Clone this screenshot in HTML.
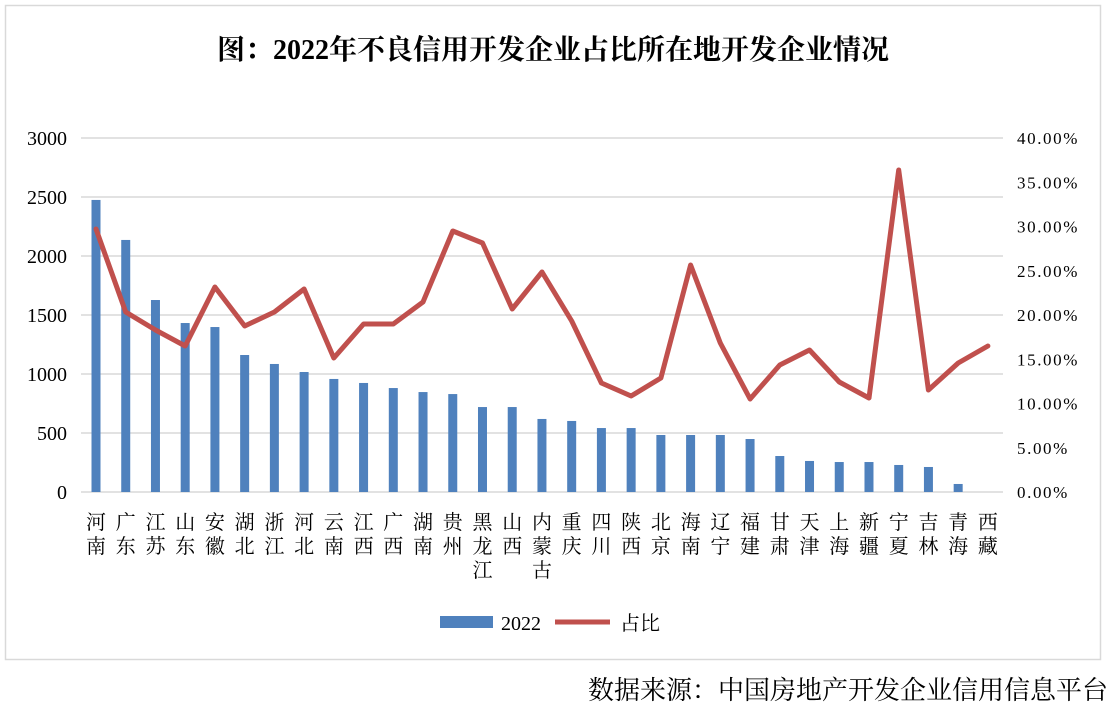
<!DOCTYPE html>
<html><head><meta charset="utf-8"><style>
body{margin:0;background:#fff;width:1118px;height:723px;overflow:hidden}
svg text{font-family:"Liberation Serif","Noto Serif CJK SC",serif}
</style></head><body>
<svg width="1118" height="723" xmlns="http://www.w3.org/2000/svg">
<rect x="5.5" y="5.5" width="1095" height="654" fill="#fff" stroke="#d9d9d9" stroke-width="1.5"/>
<text x="553" y="59" font-size="28" font-weight="bold" text-anchor="middle">图：2022年不良信用开发企业占比所在地开发企业情况</text>
<g id="grid" stroke="#d9d9d9" stroke-width="1.5"></g>
<g id="ly" font-size="20" text-anchor="end"></g>
<g id="ry" font-size="17" text-anchor="start" letter-spacing="1.6"></g>
<g id="bars" fill="#4F81BD"></g>
<polyline id="line" fill="none" stroke="#C0504D" stroke-width="5" stroke-linejoin="round" stroke-linecap="round"/>
<g id="xl" font-size="20" text-anchor="middle" style="font-family:'Liberation Sans','Noto Sans CJK SC',sans-serif"></g>
<rect x="440" y="616" width="53" height="12" fill="#4F81BD"/>
<text x="501" y="630" font-size="20">2022</text>
<line x1="555" y1="622" x2="610" y2="622" stroke="#C0504D" stroke-width="5"/>
<text x="620" y="630" font-size="20">占比</text>
<text x="1108" y="699" font-size="26" text-anchor="end">数据来源：中国房地产开发企业信用信息平台</text>
</svg>
<script>
const ns="http://www.w3.org/2000/svg";
function el(p,t,a,txt){const e=document.createElementNS(ns,t);for(const k in a)e.setAttribute(k,a[k]);if(txt!==undefined)e.textContent=txt;document.getElementById(p).appendChild(e);return e;}
for(let i=0;i<=6;i++){const y=492-i*59;
 el("grid","line",{x1:81,x2:1003,y1:y,y2:y});
 el("ly","text",{x:67,y:y+7},String(i*500));}
for(let i=0;i<=8;i++){const y=492-i*44.25;
 el("ry","text",{x:1017,y:y+6},(i*5).toFixed(2)+"%");}
const names=["河南","广东","江苏","山东","安徽","湖北","浙江","河北","云南","江西","广西","湖南","贵州","黑龙江","山西","内蒙古","重庆","四川","陕西","北京","海南","辽宁","福建","甘肃","天津","上海","新疆","宁夏","吉林","青海","西藏"];
const vals=[2475,2136,1627,1432,1398,1161,1085,1017,958,924,881,847,830,720,720,619,602,542,542,483,483,483,449,305,263,254,254,229,212,68,0];
const ly=[229,312,330,346,287,326,312,289,358,324,324,302,231,243,309,272,321,383,396,378,265,343,399,365,350,382,398,170,390,363,346];
let pts=[];
names.forEach((n,i)=>{const x=96+i*29.73;const h=vals[i]*354/3000;
 if(h>0)el("bars","rect",{x:x-4.5,y:492-h,width:9,height:h});
 pts.push(x.toFixed(1)+","+ly[i]);
 [...n].forEach((c,j)=>el("xl","text",{x:x,y:529+j*24},c));});
document.getElementById("line").setAttribute("points",pts.join(" "));
</script>
</body></html>
